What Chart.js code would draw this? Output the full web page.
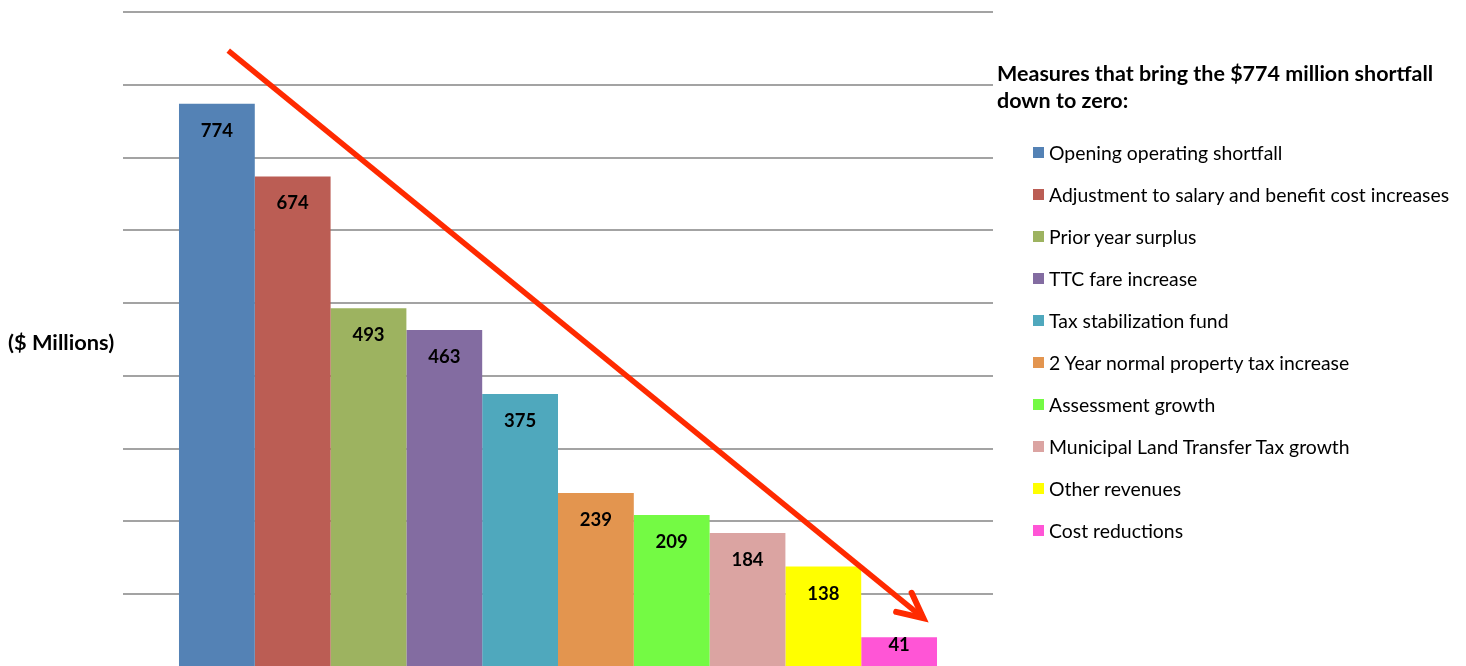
<!DOCTYPE html>
<html><head><meta charset="utf-8">
<script src="https://cdn.jsdelivr.net/npm/chart.js@4"></script>
<style>
html,body{margin:0;padding:0;overflow:hidden;background:#fff;width:1466px;height:666px;}
#wrap{position:relative;width:1466px;height:666px;overflow:hidden;}
canvas{position:absolute;left:0;top:0;}
#ytitle{position:absolute;left:8px;top:341px;transform:translateY(-50%);font:bold 21.8px Lato;color:#000;white-space:nowrap;}
#legend{position:absolute;left:997px;top:60px;font-family:Lato;color:#000;}
.ltitle{position:absolute;left:0;top:0;font:bold 21.5px Lato;line-height:27px;white-space:nowrap;}
.item{position:absolute;left:36px;height:22px;display:flex;align-items:center;font-size:19.4px;white-space:nowrap;}
.box{width:11px;height:11px;margin-right:5px;flex:none;}
</style></head>
<body>
<div id="wrap">
<canvas id="c" width="1466" height="668"></canvas>
<div id="ytitle"></div>
<div id="legend"></div>
</div>
<script>
const categories = [
  "Opening operating shortfall",
  "Adjustment to salary and benefit cost increases",
  "Prior year surplus",
  "TTC fare increase",
  "Tax stabilization fund",
  "2 Year normal property tax increase",
  "Assessment growth",
  "Municipal Land Transfer Tax growth",
  "Other revenues",
  "Cost reductions"
];
const values = [774, 674, 493, 463, 375, 239, 209, 184, 138, 41];
const colors = ["#5482b5","#bb5d54","#9db360","#836ca1","#4fa8bd","#e3954f","#74fa44","#dba4a2","#ffff00","#ff55d6"];
const yMin = 0, yMax = 900, yStep = 100;
const axisTitle = "($ Millions)";
const legendTitleLines = ["Measures that bring the $774 million shortfall", "down to zero:"];
// decorative trend arrow, in (bar slot, value) units
const arrowFrom = {slot: 0.15, value: 847};
const arrowTo = {slot: 9.32, value: 67};

document.getElementById('ytitle').textContent = axisTitle;
const lg = document.getElementById('legend');
const t = document.createElement('div'); t.className = 'ltitle';
legendTitleLines.forEach((l, i) => { if (i) t.appendChild(document.createElement('br')); t.appendChild(document.createTextNode(l)); });
lg.appendChild(t);
categories.forEach((c, i) => {
  const it = document.createElement('div'); it.className = 'item';
  it.style.top = (152 - 60 - 11 + i * 42) + 'px';
  const b = document.createElement('span'); b.className = 'box'; b.style.background = colors[i];
  const s = document.createElement('span'); s.textContent = c;
  it.appendChild(b); it.appendChild(s); lg.appendChild(it);
});

const labelPlugin = {
  id: 'labels',
  afterDatasetsDraw(chart) {
    const ctx = chart.ctx;
    ctx.save();
    ctx.font = 'bold 18.5px Lato';
    ctx.fillStyle = '#000';
    ctx.textAlign = 'center';
    ctx.textBaseline = 'middle';
    chart.data.datasets.forEach((ds, i) => {
      const el = chart.getDatasetMeta(i).data[0];
      const y = Math.min(el.y + 27, el.base - 21);
      ctx.fillText(String(ds.data[0]), el.x, y);
    });
    ctx.restore();
  }
};
const arrowPlugin = {
  id: 'arrow',
  afterDraw(chart) {
    const m0 = chart.getDatasetMeta(0).data[0], m1 = chart.getDatasetMeta(1).data[0];
    const step = m1.x - m0.x;
    const ys = chart.scales.y;
    const x1 = m0.x + arrowFrom.slot * step, y1 = ys.getPixelForValue(arrowFrom.value);
    const x2 = m0.x + arrowTo.slot * step, y2 = ys.getPixelForValue(arrowTo.value);
    const ctx = chart.ctx;
    ctx.save();
    ctx.strokeStyle = '#ff2a00';
    ctx.lineWidth = 5.5;
    ctx.lineCap = 'butt';
    ctx.beginPath(); ctx.moveTo(x1, y1); ctx.lineTo(x2, y2); ctx.stroke();
    const ang = Math.atan2(y2 - y1, x2 - x1) + Math.PI;
    const L = 28, a = 26 * Math.PI / 180;
    ctx.lineWidth = 6;
    ctx.lineJoin = 'miter';
    ctx.lineCap = 'round';
    ctx.beginPath();
    ctx.moveTo(x2 + L * Math.cos(ang + a), y2 + L * Math.sin(ang + a));
    ctx.lineTo(x2, y2);
    ctx.lineTo(x2 + L * Math.cos(ang - a), y2 + L * Math.sin(ang - a));
    ctx.stroke();
    ctx.restore();
  }
};

new Chart(document.getElementById('c'), {
  type: 'bar',
  data: {
    labels: [""],
    datasets: categories.map((c, i) => ({
      label: c, data: [values[i]], backgroundColor: colors[i], borderWidth: 0,
      categoryPercentage: 0.8713, barPercentage: 1
    }))
  },
  options: {
    responsive: false,
    animation: false,
    events: [],
    layout: {padding: {left: 123, right: 473, top: 12, bottom: 1}},
    plugins: {legend: {display: false}, tooltip: {enabled: false}, title: {display: false}},
    scales: {
      x: {display: false},
      y: {
        min: yMin, max: yMax,
        ticks: {display: false, stepSize: yStep},
        grid: {color: '#a3a3a3', lineWidth: 2, drawTicks: false, tickLength: 0},
        border: {display: false}
      }
    }
  },
  plugins: [labelPlugin, arrowPlugin]
});
</script>
</body></html>
